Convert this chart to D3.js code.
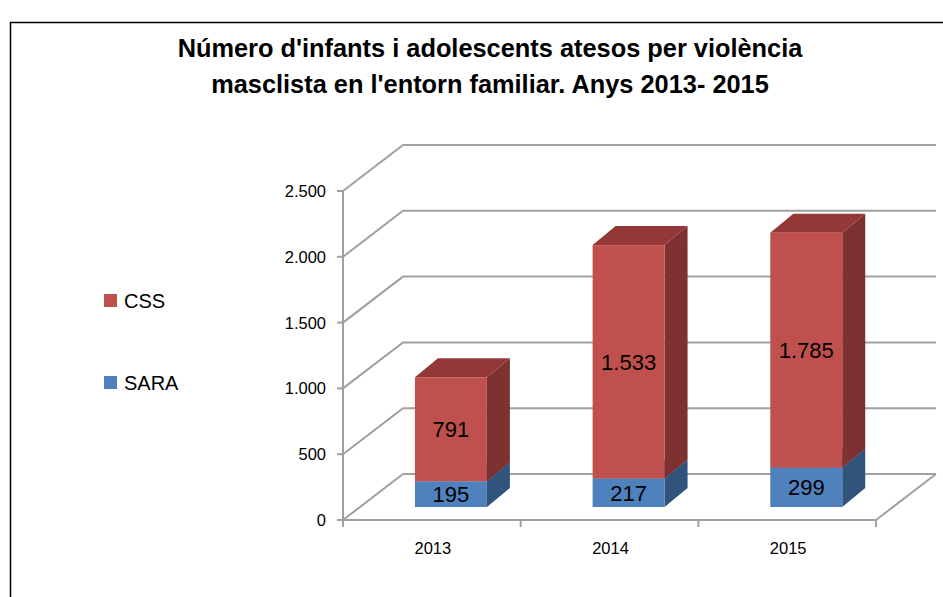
<!DOCTYPE html>
<html><head><meta charset="utf-8">
<script src="https://cdn.jsdelivr.net/npm/d3@7/dist/d3.min.js"></script>
<style>html,body{margin:0;padding:0;background:#fff;}svg{display:block;}</style>
</head><body>
<svg id="chart" width="943" height="597"></svg>
<script>
// ---- data ----
const titleLines = ["Número d'infants i adolescents atesos per violència", "masclista en l'entorn familiar. Anys 2013- 2015"];
const categories = ["2013", "2014", "2015"];
const saraValues = [195, 217, 299];
const cssValues = [791, 1773, 1785];        // bar heights as drawn
const cssLabelValues = [791, 1533, 1785];   // data labels as printed
const saraLabelValues = [195, 217, 299];
const yTicks = [0, 500, 1000, 1500, 2000, 2500];
const seriesNames = ["CSS", "SARA"];

// ---- layout ----
const svg = d3.select("#chart");
const W = 943, H = 597;
const font = "'Liberation Sans', Arial, sans-serif";
const fmt = d3.formatLocale({decimal: ",", thousands: ".", grouping: [3], currency: ["", "€"]}).format(",d");

const x0 = 343, x1 = 876, yBase = 520, yTop = 191;
const depthX = 60, depthY = -46;            // back wall offset
const x = d3.scaleBand().domain(categories).range([x0, x1]);
const y = d3.scaleLinear().domain([0, 2500]).range([yBase, yTop]);

const gridColor = "#a0a0a0";

// chart border
svg.append("path").attr("d", `M10.5,${H} L10.5,22.5 L${W},22.5`)
  .attr("fill", "none").attr("stroke", "#000").attr("stroke-width", 1.5);

// title
const titleG = svg.append("g");
titleLines.forEach((t, i) => {
  titleG.append("text").attr("x", 490).attr("y", 57 + i * 36)
    .attr("text-anchor", "middle").attr("font-family", font)
    .attr("font-weight", "bold").attr("font-size", 24).attr("fill", "#000").text(t);
});
// fit first line to reference width
(function(){
  const n = titleG.select("text").node();
  const w = n.getComputedTextLength();
  const s = 24 * 625 / w;
  titleG.selectAll("text").attr("font-size", s);
})();

// walls: gridlines (left wall diagonal + back wall horizontal)
const grid = svg.append("g").attr("fill", "none").attr("stroke", gridColor).attr("stroke-width", 2);
yTicks.forEach(t => {
  const yy = y(t);
  grid.append("path").attr("d", `M${x0},${yy} L${x0 + depthX},${yy + depthY} L${x1 + depthX},${yy + depthY}`);
});
// floor right edge
grid.append("path").attr("d", `M${x1},${yBase} L${x1 + depthX},${yBase + depthY}`);
// y axis line and x axis (front floor edge)
grid.append("path").attr("d", `M${x0},${yTop} L${x0},${yBase} L${x1},${yBase}`);
// y ticks
yTicks.forEach(t => {
  grid.append("path").attr("d", `M${x0 - 6},${y(t)} L${x0},${y(t)}`);
});
// x ticks at category boundaries
const bounds = categories.map(c => x(c)).concat([x1]);
bounds.forEach(b => grid.append("path").attr("d", `M${b},${yBase} L${b},${yBase + 7}`));

// y tick labels
svg.append("g").selectAll("text").data(yTicks).join("text")
  .attr("x", 326).attr("y", d => y(d) + 6).attr("text-anchor", "end")
  .attr("font-family", font).attr("font-size", 16.5).attr("fill", "#000").text(d => fmt(d));

// x labels
svg.append("g").selectAll("text").data(categories).join("text")
  .attr("x", d => x(d) + x.bandwidth() / 2 + 1).attr("y", 554).attr("text-anchor", "middle")
  .attr("font-family", font).attr("font-size", 16.5).attr("fill", "#000").text(d => d);

// bars
const barShiftY = -13;                   // bar front plane inside the depth
const sideX = 23, sideY = -19;           // bar depth
const barOff = x.bandwidth() * 0.405, barW = x.bandwidth() * 0.405;
const colors = {
  SARA: {front: "#4F81BD", side: "#31547D", top: "#3D6596"},
  CSS: {front: "#C0504D", side: "#7D3130", top: "#933837"}
};
const bars = svg.append("g");
function drawBox(cx, v0, v1, col) {
  const xl = cx + barOff, xr = xl + barW;
  const yb = y(v0) + barShiftY, yt = y(v1) + barShiftY;
  // side
  bars.append("path").attr("d", `M${xr},${yb} L${xr + sideX},${yb + sideY} L${xr + sideX},${yt + sideY} L${xr},${yt}Z`).attr("fill", col.side);
  // top
  bars.append("path").attr("d", `M${xl},${yt} L${xl + sideX},${yt + sideY} L${xr + sideX},${yt + sideY} L${xr},${yt}Z`).attr("fill", col.top);
  // front
  bars.append("rect").attr("x", xl).attr("y", yt).attr("width", barW).attr("height", yb - yt).attr("fill", col.front);
  return {cx: (xl + xr) / 2, cy: (yb + yt) / 2};
}
const labels = [];
categories.forEach((c, i) => {
  const a = drawBox(x(c), 0, saraValues[i], colors.SARA);
  const b = drawBox(x(c), saraValues[i], saraValues[i] + cssValues[i], colors.CSS);
  labels.push({p: a, t: fmt(saraLabelValues[i])});
  labels.push({p: b, t: fmt(cssLabelValues[i])});
});
svg.append("g").selectAll("text").data(labels).join("text")
  .attr("x", d => d.p.cx).attr("y", d => d.p.cy + 8).attr("text-anchor", "middle")
  .attr("font-family", font).attr("font-size", 22).attr("fill", "#000").text(d => d.t);

// legend
const leg = svg.append("g");
[{n: seriesNames[0], c: colors.CSS.front, y: 294}, {n: seriesNames[1], c: colors.SARA.front, y: 376}].forEach(d => {
  leg.append("rect").attr("x", 104).attr("y", d.y).attr("width", 13).attr("height", 13).attr("fill", d.c);
  leg.append("text").attr("x", 124).attr("y", d.y + 14).attr("font-family", font)
    .attr("font-size", 20).attr("fill", "#000").text(d.n);
});
</script>
</body></html>
